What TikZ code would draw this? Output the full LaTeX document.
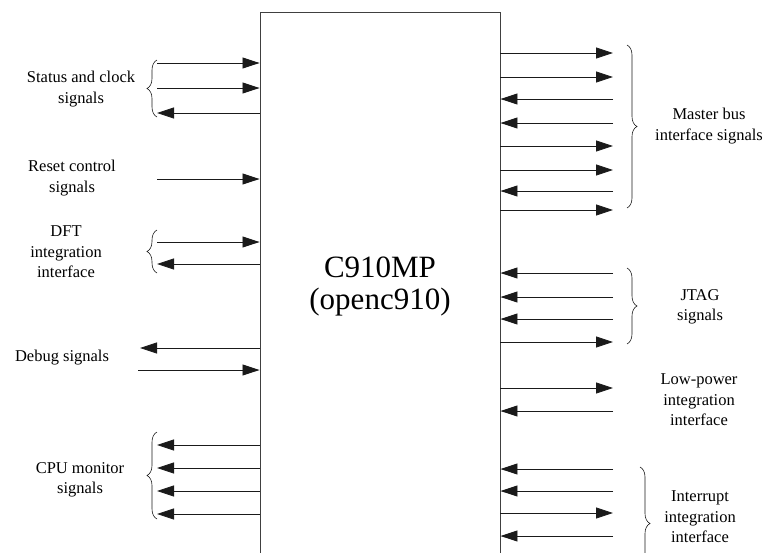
\documentclass[tikz,border=0pt]{standalone}
\usepackage{fontspec}
\setmainfont{Liberation Serif}
\usetikzlibrary{arrows.meta, positioning, decorations.pathreplacing}
\definecolor{LineDark}{HTML}{1A1A1A}
\definecolor{BoxGray}{HTML}{404040}

\begin{document}
\begin{tikzpicture}[
        x=1pt, y=-1pt,
        chip/.style={rectangle, draw=BoxGray, line width=0.9pt, minimum width=240pt, minimum height=590pt, inner sep=0pt},
        lbl/.style={align=center, font=\fontsize{16.5}{20.5}\selectfont, inner sep=0pt},
        tochip/.style={-{Triangle[length=17pt, width=11pt]}, line width=0.8pt, LineDark},
        fromchip/.style={{Triangle[length=17pt, width=11pt]}-, line width=0.8pt, LineDark},
        brc/.style={decorate, decoration={brace, amplitude=10pt}, line width=0.6pt, LineDark}
      ]
        \useasboundingbox (0,0) rectangle (766,552);
        \clip (0,0) rectangle (766,552);

        \node[chip] (chip) at (380,307.5) {};
        \node[align=center, font=\fontsize{31}{32}\selectfont] (name) at (380,286) {C910MP\\(openc910)};

        % left side signals
        \foreach \y/\s/\x [count=\i] in {63/tochip/157, 88/tochip/157, 113/fromchip/157, 179/tochip/157,
            242/tochip/157, 264/fromchip/157, 348/fromchip/140, 370/tochip/138,
            445/fromchip/157, 468/fromchip/157, 491/fromchip/157, 514/fromchip/157} {
          \coordinate (l\i) at (\x,\y);
          \draw[\s] (l\i) -- (l\i -| chip.west);
        }

        % right side signals
        \foreach \y/\s [count=\i] in {53/fromchip, 77/fromchip, 99/tochip, 123/tochip,
            146/fromchip, 170/fromchip, 191/tochip, 210/fromchip,
            273/tochip, 297/tochip, 319/tochip, 342/fromchip,
            388/fromchip, 411/tochip,
            469/tochip, 491/tochip, 513/fromchip, 536/tochip} {
          \coordinate (r\i) at (613,\y);
          \draw[\s] (r\i) -- (r\i -| chip.east);
        }

        % braces
        \draw[brc] (157,117) -- (157,60);
        \draw[brc] (157,273) -- (157,230);
        \draw[brc] (157,519) -- (157,432);
        \draw[brc] (627,45) -- (627,208);
        \draw[brc] (627,268) -- (627,344);
        \draw[brc] (640,467) -- (640,580);

        % labels
        \node[lbl] (status) at (81,89) {Status and clock\\signals};
        \node[lbl] (reset) at (72,178) {Reset control\\signals};
        \node[lbl] (dft) at (66,252) {DFT\\integration\\interface};
        \node[lbl] (debug) at (62,358) {Debug signals};
        \node[lbl] (monitor) at (80,480) {CPU monitor\\signals};
        \node[lbl] (master) at (709,126) {Master bus\\interface signals};
        \node[lbl] (jtag) at (700,307) {JTAG\\signals};
        \node[lbl] (lowpower) at (699,400) {Low-power\\integration\\interface};
        \node[lbl] (interrupt) at (700,517) {Interrupt\\integration\\interface};
      \end{tikzpicture}
\end{document}
